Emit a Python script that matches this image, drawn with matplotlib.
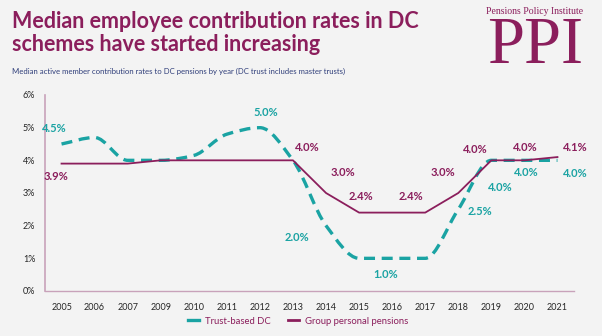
import matplotlib
matplotlib.use("Agg")
import matplotlib.pyplot as plt
from matplotlib.path import Path
from matplotlib.patches import PathPatch
from matplotlib.lines import Line2D
import numpy as np

years = ["2005", "2006", "2007", "2009", "2010", "2011", "2012", "2013",
         "2014", "2015", "2016", "2017", "2018", "2019", "2020", "2021"]
trust_dc = [4.5, 4.7, 4.0, 4.0, 4.15, 4.8, 5.0, 4.0,
            2.0, 1.0, 1.0, 1.0, 2.5, 4.0, 4.0, 4.0]
gpp = [3.9, 3.9, 3.9, 4.0, 4.0, 4.0, 4.0, 4.0,
       3.0, 2.4, 2.4, 2.4, 3.0, 4.0, 4.0, 4.1]

# which points get a data label, and where (offset in pixels)
trust_labels = {0: (-7, 15), 6: (6, 15), 8: (-29, -12), 10: (-7, -16),
                12: (22, -2), 13: (9, -27), 14: (2, -12), 15: (18, -13)}
gpp_labels = {0: (-6, -13), 7: (14, 13), 8: (17, 20), 9: (2, 16),
              11: (-14, 16), 12: (-15, 20), 13: (-16, 11), 14: (1, 13),
              15: (18, 10)}

TEAL = "#1AA3A3"
PLUM = "#8B1E5C"
BG = "#F3F3F3"

plt.rcParams['font.family'] = ['Lato', 'DejaVu Sans']

fig = plt.figure(figsize=(6.02, 3.36), dpi=100, facecolor=BG)
ax = fig.add_axes([45 / 602, 1 - 291 / 336, 529 / 602, 196 / 336])
ax.set_facecolor(BG)

x = np.arange(len(years))


def smooth_path(xs, ys):
    # monotone cubic (keeps flat stretches flat), drawn as bezier segments
    xs = np.asarray(xs, float)
    ys = np.asarray(ys, float)
    d = np.diff(ys) / np.diff(xs)
    m = np.zeros_like(ys)
    m[0], m[-1] = d[0], d[-1]
    for k in range(1, len(ys) - 1):
        if d[k - 1] * d[k] > 0:
            m[k] = 2 / (1 / d[k - 1] + 1 / d[k])
    verts = [(xs[0], ys[0])]
    codes = [Path.MOVETO]
    for i in range(len(xs) - 1):
        h = xs[i + 1] - xs[i]
        verts += [(xs[i] + h / 3, ys[i] + m[i] * h / 3),
                  (xs[i + 1] - h / 3, ys[i + 1] - m[i + 1] * h / 3),
                  (xs[i + 1], ys[i + 1])]
        codes += [Path.CURVE4] * 3
    return Path(verts, codes)


patch = PathPatch(smooth_path(x, trust_dc), fill=False, edgecolor=TEAL,
                  lw=2.4, linestyle=(0, (3.3, 2)), capstyle="butt", zorder=3)
ax.add_patch(patch)
ax.plot(x, gpp, color=PLUM, lw=1.3, zorder=4)

for i, (dx, dy) in trust_labels.items():
    ax.annotate(f"{trust_dc[i]:.1f}%", (x[i], trust_dc[i]), xytext=(dx, dy),
                textcoords="offset pixels", ha="center", va="center",
                color=TEAL, fontsize=8, fontweight="bold")
for i, (dx, dy) in gpp_labels.items():
    ax.annotate(f"{gpp[i]:.1f}%", (x[i], gpp[i]), xytext=(dx, dy),
                textcoords="offset pixels", ha="center", va="center",
                color=PLUM, fontsize=8, fontweight="bold")

ax.set_xlim(-0.5, len(years) - 0.5)
ax.set_ylim(0, 6)
ax.set_xticks(x)
ax.set_xticklabels(years)
ax.set_yticks(range(7))
ax.set_yticklabels([f"{v}%" for v in range(7)])
ax.tick_params(length=0, labelsize=6.5, colors="#262626", pad=9)
ax.tick_params(axis="y", pad=7)
for s in ["top", "right"]:
    ax.spines[s].set_visible(False)
ax.spines["left"].set_color("#C8A2BA")
ax.spines["left"].set_linewidth(1.2)
ax.spines["bottom"].set_color("#C8A2BA")
ax.spines["bottom"].set_linewidth(1.0)

handles = [Line2D([0], [0], color=TEAL, lw=2.4),
           Line2D([0], [0], color=PLUM, lw=2.0)]
leg = fig.legend(handles, ["Trust-based DC", "Group personal pensions"],
                 loc="center", bbox_to_anchor=(298 / 602, 1 - 321 / 336),
                 ncol=2, frameon=False, fontsize=6.8, handlelength=1.2,
                 handletextpad=0.6, columnspacing=1.8)
for t in leg.get_texts():
    t.set_color(PLUM)

fig.text(12 / 602, 1 - 11 / 336,
         "Median employee contribution rates in DC\nschemes have started increasing",
         ha="left", va="top", color=PLUM, fontsize=15.5, fontweight="bold",
         linespacing=1.12)
fig.text(12 / 602, 1 - 71 / 336,
         "Median active member contribution rates to DC pensions by year (DC trust includes master trusts)",
         ha="left", va="center", color="#2F3E7A", fontsize=5.6)

fig.text(535 / 602, 1 - 12 / 336, "Pensions Policy Institute", ha="center",
         va="center", color=PLUM, fontsize=7, family="Liberation Serif")
fig.text(535 / 602, 1 - 63 / 336, "PPI", ha="center", va="baseline",
         color=PLUM, fontsize=48, family="Liberation Serif")

fig.savefig("out.png", dpi=100, facecolor=BG)
